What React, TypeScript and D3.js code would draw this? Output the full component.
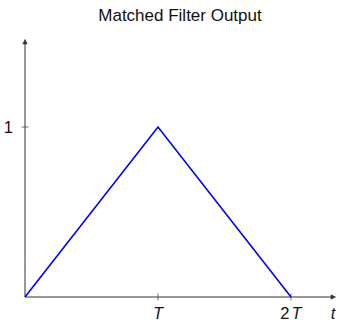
import React from "react";
import * as d3 from "d3";

const tValues = [0, 1, 2];
const outputValues = [0, 1, 0];
const xTickValues = [1, 2];
const xTickLabels = [["", "T"], ["2", "T"]];
const yTickValues = [1];
const yTickLabels = ["1"];
const title = "Matched Filter Output";

export default function App() {
  const W = 340, H = 323;
  const x = d3.scaleLinear().domain([0, 2]).range([25, 291]);
  const y = d3.scaleLinear().domain([0, 1]).range([297, 127]);
  const data = tValues.map((t, i) => ({ t, v: outputValues[i] }));
  const line = d3.line<{ t: number; v: number }>().x(d => x(d.t)).y(d => y(d.v));
  const axisColor = "#333";
  const font = "'Liberation Sans', Arial, Helvetica, sans-serif";
  const fs = 16.5;
  return (
    <svg width={W} height={H} style={{ position: "absolute", left: 0, top: 0 }}>
      <rect width={W} height={H} fill="#fff" />
      <text x={180} y={21} textAnchor="middle" fontFamily={font} fontSize={17} fill="#111">{title}</text>
      {/* y axis */}
      <line x1={x(0)} y1={y(0)} x2={x(0)} y2={42} stroke={axisColor} strokeWidth={1} />
      <path d={`M${x(0) - 2.2},${44} L${x(0)},${39.5} L${x(0) + 2.2},${44} Z`} fill={axisColor} stroke={axisColor} strokeWidth={0.6} />
      {/* x axis */}
      <line x1={x(0)} y1={y(0)} x2={333} y2={y(0)} stroke={axisColor} strokeWidth={1} />
      <path d={`M${331},${y(0) - 2.2} L${335.5},${y(0)} L${331},${y(0) + 2.2} Z`} fill={axisColor} stroke={axisColor} strokeWidth={0.6} />
      {yTickValues.map((v, i) => (
        <g key={"y" + i}>
          <line x1={x(0) - 3.5} x2={x(0) + 3.5} y1={y(v)} y2={y(v)} stroke={axisColor} strokeWidth={0.7} />
          <text x={13} y={y(v) + 6} textAnchor="end" fontFamily={font} fontSize={fs} fill="#111">{yTickLabels[i]}</text>
        </g>
      ))}
      {xTickValues.map((v, i) => (
        <g key={"x" + i}>
          <line x1={x(v)} x2={x(v)} y1={y(0) - 3.5} y2={y(0) + 3.5} stroke={axisColor} strokeWidth={0.7} />
          <text x={x(v)} y={319} textAnchor="middle" fontFamily={font} fontSize={fs} fill="#111">
            {xTickLabels[i][0] && <tspan dx={0}>{xTickLabels[i][0]}</tspan>}
            <tspan dx={xTickLabels[i][0] ? 2 : 0} fontStyle="italic">{xTickLabels[i][1]}</tspan>
          </text>
        </g>
      ))}
      <text x={333} y={319} textAnchor="middle" fontFamily={font} fontSize={fs} fontStyle="italic" fill="#111">t</text>
      <path d={line(data) || ""} fill="none" stroke="#0000ff" strokeWidth={1.6} />
    </svg>
  );
}
